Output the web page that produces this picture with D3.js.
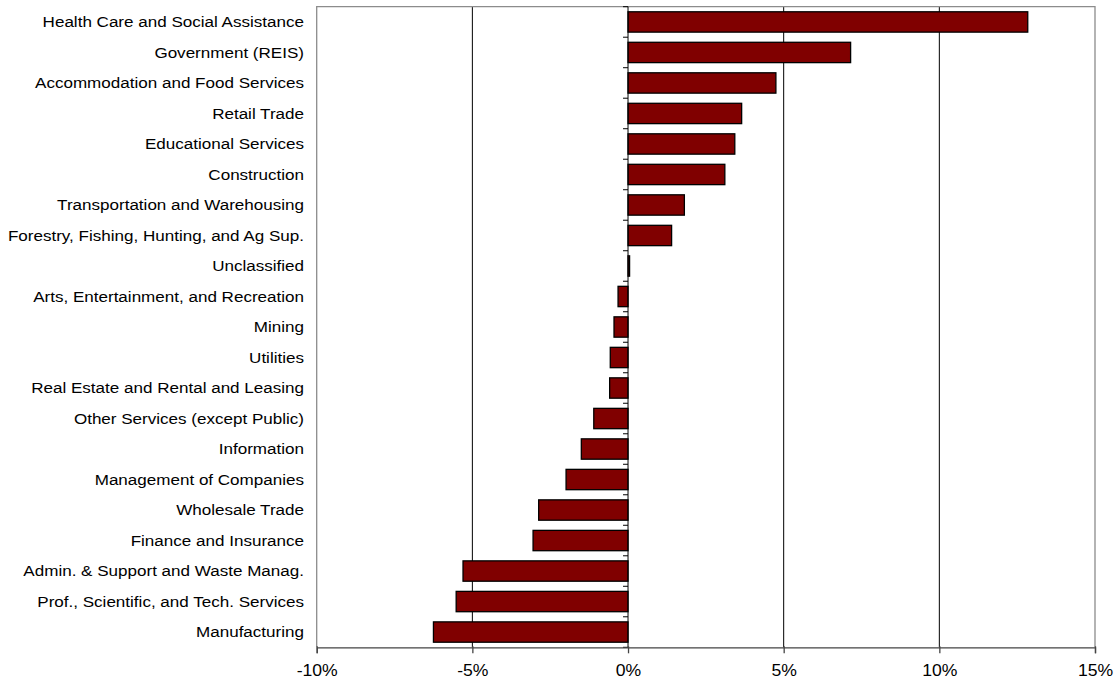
<!DOCTYPE html>
<html>
<head>
<meta charset="utf-8">
<script src="https://cdn.jsdelivr.net/npm/d3@7"></script>
<style>
  html, body { margin: 0; padding: 0; background: #fff; }
  svg { display: block; }
  text { font-family: "Liberation Sans", Arial, sans-serif; fill: #000; }
</style>
</head>
<body>
<svg id="chart" width="1118" height="683"></svg>
<script>
// Industries, ordered top to bottom
const industries = [
  "Health Care and Social Assistance",
  "Government (REIS)",
  "Accommodation and Food Services",
  "Retail Trade",
  "Educational Services",
  "Construction",
  "Transportation and Warehousing",
  "Forestry, Fishing, Hunting, and Ag Sup.",
  "Unclassified",
  "Arts, Entertainment, and Recreation",
  "Mining",
  "Utilities",
  "Real Estate and Rental and Leasing",
  "Other Services (except Public)",
  "Information",
  "Management of Companies",
  "Wholesale Trade",
  "Finance and Insurance",
  "Admin. & Support and Waste Manag.",
  "Prof., Scientific, and Tech. Services",
  "Manufacturing"
];

// Percent change for each industry
const changePct = [
  12.84, 7.15, 4.75, 3.65, 3.43, 3.11, 1.81, 1.40, 0.05,
  -0.32, -0.45, -0.57, -0.59, -1.10, -1.50, -1.99, -2.87, -3.05,
  -5.30, -5.52, -6.25
];

// Value axis ticks
const xTicks = [-10, -5, 0, 5, 10, 15];

const data = industries.map((name, i) => ({ name, value: changePct[i] }));

const svg = d3.select("#chart");
const plot = { left: 316.7, right: 1095, top: 6.7, bottom: 647.3 };
const stretch = 1.1; // slightly wide lettering

const x = d3.scaleLinear().domain([-10, 15]).range([plot.left, plot.right]);
const y = d3.scaleBand()
  .domain(industries)
  .range([plot.top, plot.bottom])
  .paddingInner(1 / 3)
  .paddingOuter(1 / 6);

// Vertical gridlines at the inner major ticks
svg.append("g")
  .selectAll("line")
  .data(xTicks.filter(t => t !== 0 && t !== -10 && t !== 15))
  .join("line")
  .attr("x1", d => x(d)).attr("x2", d => x(d))
  .attr("y1", plot.top).attr("y2", plot.bottom)
  .attr("stroke", "#000").attr("stroke-width", 1);

// Plot frame (top, left, right)
svg.append("path")
  .attr("d", `M${plot.left},${plot.bottom}V${plot.top}H${plot.right}V${plot.bottom}`)
  .attr("fill", "none")
  .attr("stroke", "#8c8c8c")
  .attr("stroke-width", 1.3);

// Bars
svg.append("g")
  .selectAll("rect")
  .data(data)
  .join("rect")
  .attr("x", d => x(Math.min(0, d.value)))
  .attr("width", d => Math.abs(x(d.value) - x(0)))
  .attr("y", d => y(d.name))
  .attr("height", y.bandwidth())
  .attr("fill", "#800000")
  .attr("stroke", "#000")
  .attr("stroke-width", 1.3);

// Category axis on the zero line, ticks between bands
const step = y.step();
const boundaries = d3.range(industries.length + 1).map(i => plot.top + i * step);
const catAxis = svg.append("g");
catAxis.append("line")
  .attr("x1", x(0)).attr("x2", x(0))
  .attr("y1", plot.top).attr("y2", plot.bottom)
  .attr("stroke", "#000").attr("stroke-width", 1);
catAxis.selectAll("line.tick")
  .data(boundaries)
  .join("line")
  .attr("class", "tick")
  .attr("x1", x(0) - 5).attr("x2", x(0))
  .attr("y1", d => d).attr("y2", d => d)
  .attr("stroke", "#000").attr("stroke-width", 1);

// Category labels
svg.append("g")
  .selectAll("text")
  .data(industries)
  .join("text")
  .attr("transform", d => `translate(304,${y(d) + y.bandwidth() / 2}) scale(${stretch},1)`)
  .attr("dy", "0.35em")
  .attr("text-anchor", "end")
  .attr("font-size", 15.5)
  .text(d => d);

// Value axis along the bottom
const xAxis = d3.axisBottom(x)
  .tickValues(xTicks)
  .tickSize(6)
  .tickPadding(0)
  .tickFormat(d => d + "%");

const gx = svg.append("g")
  .attr("transform", `translate(0,${plot.bottom})`)
  .call(xAxis);
gx.select(".domain").attr("stroke", "#444").attr("stroke-width", 1.3);
gx.selectAll(".tick line").attr("stroke", "#444").attr("stroke-width", 1.3).attr("y1", -1);
gx.selectAll(".tick text")
  .attr("y", 0)
  .attr("dy", 0)
  .attr("transform", `translate(0,29) scale(${stretch},1)`)
  .attr("font-size", 16)
  .attr("font-family", "Liberation Sans, Arial, sans-serif")
  .attr("fill", "#000");
</script>
</body>
</html>
